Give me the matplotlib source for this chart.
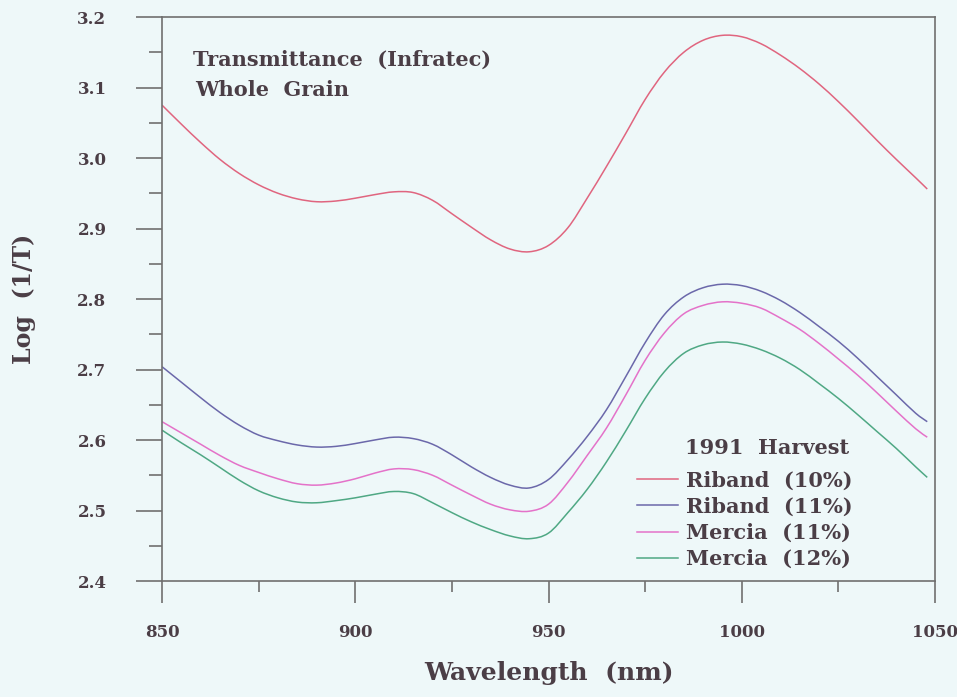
#!/usr/bin/python3
import matplotlib
matplotlib.use("Agg")
import matplotlib.pyplot as plt
from matplotlib.path import Path
from matplotlib.patches import PathPatch
from matplotlib.lines import Line2D
from matplotlib.ticker import MultipleLocator

################################################################################
# DATOS
#------------------------------------------------------------------------------#

longitudes = [850, 855, 860, 865, 870, 875, 880, 885, 890, 895,
              900, 905, 910, 915, 920, 925, 930, 935, 940, 945,
              950, 955, 960, 965, 970, 975, 980, 985, 990, 995,
              1000, 1005, 1010, 1015, 1020, 1025, 1030, 1035, 1040, 1045, 1048]

riband_10 = [3.075, 3.048, 3.022, 2.998, 2.978, 2.962, 2.950, 2.942, 2.938, 2.939,
             2.943, 2.948, 2.952, 2.951, 2.940, 2.921, 2.902, 2.884, 2.871, 2.867,
             2.876, 2.901, 2.943, 2.988, 3.035, 3.083, 3.122, 3.150, 3.167, 3.174,
             3.172, 3.162, 3.146, 3.127, 3.105, 3.080, 3.053, 3.025, 2.998, 2.972, 2.956]

riband_11 = [2.704, 2.682, 2.660, 2.639, 2.621, 2.607, 2.599, 2.593, 2.590, 2.591,
             2.595, 2.600, 2.604, 2.602, 2.594, 2.579, 2.562, 2.547, 2.536, 2.532,
             2.544, 2.572, 2.605, 2.643, 2.690, 2.738, 2.778, 2.803, 2.816, 2.821,
             2.819, 2.811, 2.798, 2.781, 2.761, 2.740, 2.716, 2.690, 2.664, 2.638, 2.626]

mercia_11 = [2.626, 2.610, 2.594, 2.578, 2.564, 2.554, 2.545, 2.538, 2.536, 2.539,
             2.545, 2.553, 2.559, 2.558, 2.550, 2.536, 2.522, 2.509, 2.501, 2.499,
             2.509, 2.540, 2.578, 2.617, 2.664, 2.713, 2.752, 2.779, 2.791, 2.796,
             2.794, 2.787, 2.773, 2.757, 2.737, 2.715, 2.692, 2.667, 2.641, 2.616, 2.604]

mercia_12 = [2.614, 2.596, 2.579, 2.561, 2.543, 2.528, 2.518, 2.512, 2.511, 2.514,
             2.518, 2.523, 2.527, 2.524, 2.511, 2.497, 2.484, 2.473, 2.464, 2.460,
             2.468, 2.497, 2.530, 2.569, 2.613, 2.659, 2.697, 2.723, 2.735, 2.739,
             2.736, 2.728, 2.716, 2.700, 2.680, 2.659, 2.636, 2.612, 2.588, 2.562, 2.547]

series = [
    ("Riband  (10%)", riband_10, "#e0657f"),
    ("Riband  (11%)", riband_11, "#6b68aa"),
    ("Mercia  (11%)", mercia_11, "#e472c9"),
    ("Mercia  (12%)", mercia_12, "#4fa884"),
]

################################################################################
# FUNCIONES
#------------------------------------------------------------------------------#

def trazo_suave( xs, ys ):
    # curva de Bezier que pasa por todos los puntos (Catmull-Rom)
    pts = list(zip(xs, ys))
    n = len(pts)
    verts = [ pts[0] ]
    codes = [ Path.MOVETO ]
    for i in range(n - 1):
        p0 = pts[max(i - 1, 0)]
        p1 = pts[i]
        p2 = pts[i + 1]
        p3 = pts[min(i + 2, n - 1)]
        c1 = ( p1[0] + (p2[0] - p0[0]) / 6, p1[1] + (p2[1] - p0[1]) / 6 )
        c2 = ( p2[0] - (p3[0] - p1[0]) / 6, p2[1] - (p3[1] - p1[1]) / 6 )
        verts += [ c1, c2, p2 ]
        codes += [ Path.CURVE4 ] * 3
    return Path(verts, codes)

################################################################################
# GRAFICO
#------------------------------------------------------------------------------#

fondo = "#eef8f9"
texto = "#4b3e46"
ejes = "#707070"

plt.rcParams["font.family"] = ["DejaVu Serif"]
plt.rcParams["font.weight"] = "bold"

fig = plt.figure(figsize=(9.57, 6.97), dpi=100, facecolor=fondo)
ax = fig.add_axes([0.1693, 0.1664, 0.8077, 0.8092], facecolor=fondo)

manijas = []
for nombre, valores, color in series:
    ax.add_patch(PathPatch(trazo_suave(longitudes, valores), fill=False,
                           edgecolor=color, lw=1.1))
    manijas.append(Line2D([], [], color=color, lw=1.1, label=nombre))

ax.set_xlim(850, 1050)
ax.set_ylim(2.4, 3.2)
ax.xaxis.set_major_locator(MultipleLocator(50))
ax.xaxis.set_minor_locator(MultipleLocator(25))
ax.yaxis.set_major_locator(MultipleLocator(0.1))
ax.yaxis.set_minor_locator(MultipleLocator(0.05))
ax.yaxis.set_major_formatter(plt.FormatStrFormatter("%.1f"))

for lado in ax.spines.values():
    lado.set_color(ejes)
    lado.set_linewidth(1.2)

ax.tick_params(axis="y", which="major", direction="out", length=19, width=1.2,
               color=ejes, pad=21, labelsize=12, labelcolor=texto)
ax.tick_params(axis="y", which="minor", direction="out", length=9.5, width=1.2,
               color=ejes)
ax.tick_params(axis="x", which="major", direction="out", length=16, width=1.2,
               color=ejes, pad=15, labelsize=12, labelcolor=texto)
ax.tick_params(axis="x", which="minor", direction="out", length=8, width=1.2,
               color=ejes)

ax.set_xlabel("Wavelength  (nm)", fontsize=18, fontweight="bold", color=texto,
              labelpad=14)
ax.set_ylabel("Log  (1/T)", fontsize=17, fontweight="bold", color=texto,
              labelpad=30)

ax.text(0.040, 0.925, "Transmittance  (Infratec)", transform=ax.transAxes,
        fontsize=15, fontweight="bold", color=texto, va="center", ha="left")
ax.text(0.043, 0.870, "Whole  Grain", transform=ax.transAxes,
        fontsize=15, fontweight="bold", color=texto, va="center", ha="left")

ax.text(0.677, 0.236, "1991  Harvest", transform=ax.transAxes,
        fontsize=15, fontweight="bold", color=texto, va="center", ha="left")
leyenda = ax.legend(handles=manijas, loc="upper left",
                    bbox_to_anchor=(0.614, 0.196),
                    frameon=False, fontsize=15,
                    borderpad=0, borderaxespad=0,
                    handlelength=2.0, handletextpad=0.35, labelspacing=0.3)
for t in leyenda.get_texts():
    t.set_color(texto)

fig.savefig("out.png", dpi=100, facecolor=fondo)
